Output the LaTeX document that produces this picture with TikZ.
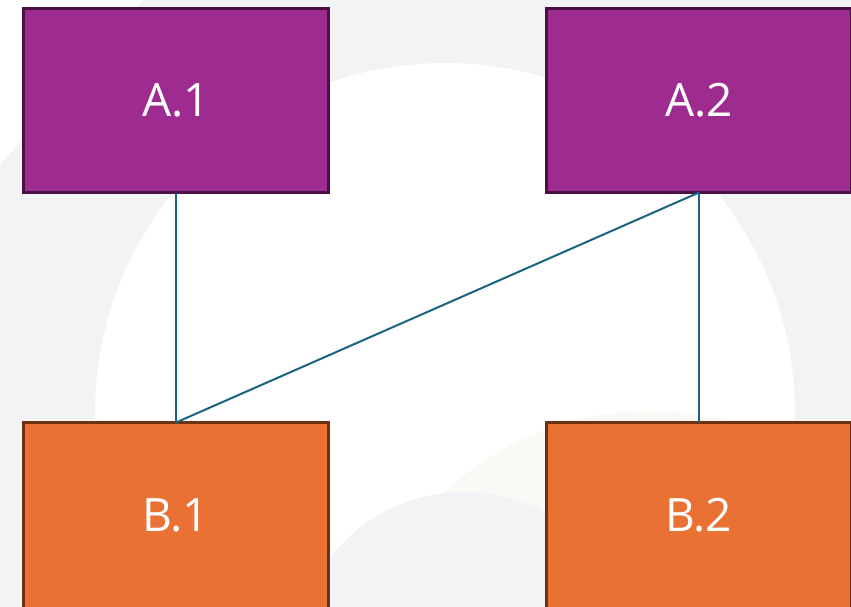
\documentclass[tikz,border=0pt]{standalone}
\usepackage{fontspec}
\setmainfont{Open Sans}
\usepackage{tikz}
\definecolor{bggray}{HTML}{F2F3F5}
\definecolor{bgcream}{HTML}{FAF9F5}
\definecolor{purplefill}{HTML}{9E2B8F}
\definecolor{purpleline}{HTML}{4A1042}
\definecolor{orangefill}{HTML}{E87133}
\definecolor{orangeline}{HTML}{6B3312}
\definecolor{linkblue}{HTML}{1B6383}

\begin{document}
\begin{tikzpicture}[x=1pt, y=-1pt,
	box/.style={draw, line width=3pt, minimum width=305pt, minimum height=184pt, inner sep=0pt, outer sep=0pt, text=white, font=\fontsize{46}{50}\selectfont},
	boxa/.style={box, fill=purplefill, draw=purpleline},
	boxb/.style={box, fill=orangefill, draw=orangeline, minimum height=186pt},
	link/.style={line width=2pt, color=linkblue}]
			%%%%% START %%%%%
			
			\useasboundingbox (0, 0) rectangle (851, 607);
			\clip (0, 0) rectangle (851, 607);
			
			% background
			\fill[bggray] (0, 0) rectangle (851, 607);
			\fill[white] (0, 0) -- (143, 0) -- (0, 165) -- cycle;
			\fill[white] (445, 413) circle (350);
			\fill[white] (95, 413) rectangle (795, 607);
			\fill[bgcream] (650, 711) circle (300);
			\fill[bggray] (464, 661) circle (169);
			
			% boxes
			\node[boxa] (a1) at (176, 100.5) {A.1};
			\node[boxa] (a2) at (699, 100.5) {A.2};
			\node[boxb] (b1) at (176, 515.5) {B.1};
			\node[boxb] (b2) at (699, 515.5) {B.2};
			
			% links
			\draw[link] (a1.south) -- (b1.north);
			\draw[link] (a2.south) -- (b1.north);
			\draw[link] (a2.south) -- (b2.north);
			
			%%%%% END %%%%%
		\end{tikzpicture}
\end{document}
